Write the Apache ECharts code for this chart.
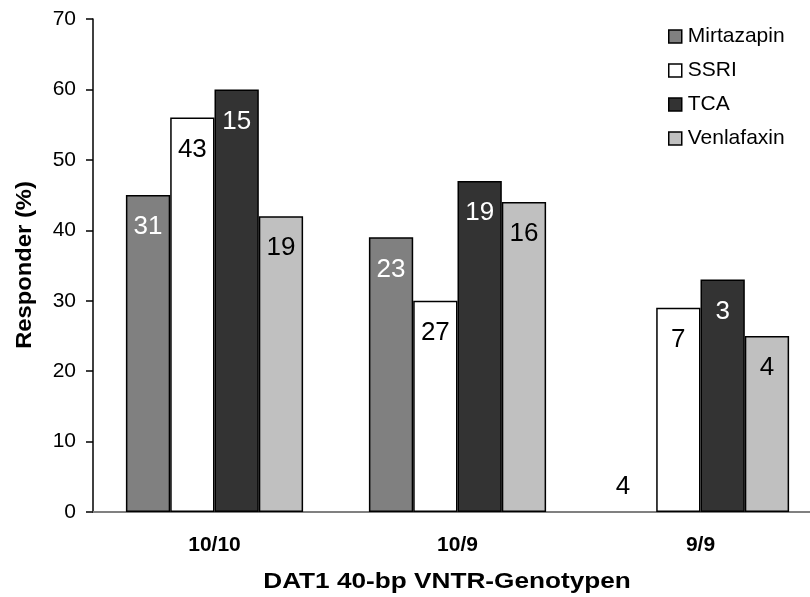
<!DOCTYPE html>
<html>
<head>
<meta charset="utf-8">
<script src="https://cdn.jsdelivr.net/npm/echarts@6/dist/echarts.min.js"></script>
<style>html,body{margin:0;padding:0;background:#fff}#c{width:810px;height:597px}</style>
</head>
<body>
<div id="c"></div>
<script>
var categories = ['10/10', '10/9', '9/9'];
var seriesNames = ['Mirtazapin', 'SSRI', 'TCA', 'Venlafaxin'];
var mirtazapin = [45, 39, 0];
var ssri = [56, 30, 29];
var tca = [60, 47, 33];
var venlafaxin = [42, 44, 25];
var nMirtazapin = [31, 23, 4];
var nSsri = [43, 27, 7];
var nTca = [15, 19, 3];
var nVenlafaxin = [19, 16, 4];
var yTicks = [0, 10, 20, 30, 40, 50, 60, 70];

var values = [mirtazapin, ssri, tca, venlafaxin];
var counts = [nMirtazapin, nSsri, nTca, nVenlafaxin];
var fills = ['#808080', '#ffffff', '#333333', '#c0c0c0'];
var labelColors = ['#ffffff', '#000000', '#ffffff', '#000000'];
var FONT = 'Liberation Sans, Arial, sans-serif';

var chart = echarts.init(document.getElementById('c'));
var series = seriesNames.map(function (name, si) {
  return {
    name: name,
    type: 'bar',
    barWidth: 44.3,
    barGap: '0%',
    itemStyle: { color: fills[si], borderColor: '#000', borderWidth: 1.5 },
    label: {
      show: true,
      position: 'insideTop',
      distance: 19,
      fontFamily: FONT,
      fontSize: 26,
      color: labelColors[si],
      formatter: function (p) { return String(counts[si][p.dataIndex]); }
    },
    data: values[si].map(function (v, i) {
      if (v === 0) {
        return {
          value: v,
          itemStyle: { borderWidth: 0 },
          label: { position: 'top', distance: 12, offset: [-11, 0], color: '#000' }
        };
      }
      return v;
    }),
    animation: false
  };
});

chart.setOption({
  animation: false,
  grid: { left: 93, top: 19, width: 729, height: 493, containLabel: false, outerBoundsMode: 'none' },
  legend: {
    orient: 'vertical',
    left: 663,
    top: 21,
    itemWidth: 13,
    itemHeight: 13,
    itemGap: 13,
    icon: 'rect',
    itemStyle: { borderColor: '#000', borderWidth: 1.5 },
    textStyle: { fontFamily: FONT, fontSize: 21, color: '#000', padding: [0, 0, 0, 1] },
    data: seriesNames
  },
  xAxis: {
    type: 'category',
    data: categories,
    axisLine: { lineStyle: { color: '#808080', width: 2 } },
    axisTick: { show: false },
    axisLabel: { fontFamily: FONT, fontSize: 21, fontWeight: 'bold', color: '#000', margin: 23 },
    splitLine: { show: false }
  },
  yAxis: {
    type: 'value',
    min: 0,
    max: 70,
    interval: 10,
    axisLine: { show: true, lineStyle: { color: '#000', width: 1.5 } },
    axisTick: { show: true, length: 7, lineStyle: { color: '#000', width: 1.5 } },
    axisLabel: {
      fontFamily: FONT, fontSize: 21, color: '#000', margin: 17,
      formatter: function (v) { return yTicks.indexOf(v) >= 0 ? String(v) : ''; }
    },
    splitLine: { show: false }
  },
  graphic: [
    {
      type: 'text',
      x: 25, y: 265, rotation: Math.PI / 2, scaleX: 1.08,
      style: {
        text: 'Responder (%)', fontFamily: FONT, fontSize: 22, fontWeight: 'bold', fill: '#000',
        align: 'center', verticalAlign: 'middle'
      }
    },
    {
      type: 'text',
      x: 447, y: 582, scaleX: 1.19,
      style: {
        text: 'DAT1 40-bp VNTR-Genotypen', fontFamily: FONT, fontSize: 22, fontWeight: 'bold', fill: '#000',
        align: 'center', verticalAlign: 'middle'
      }
    }
  ],
  series: series
});
</script>
</body>
</html>
